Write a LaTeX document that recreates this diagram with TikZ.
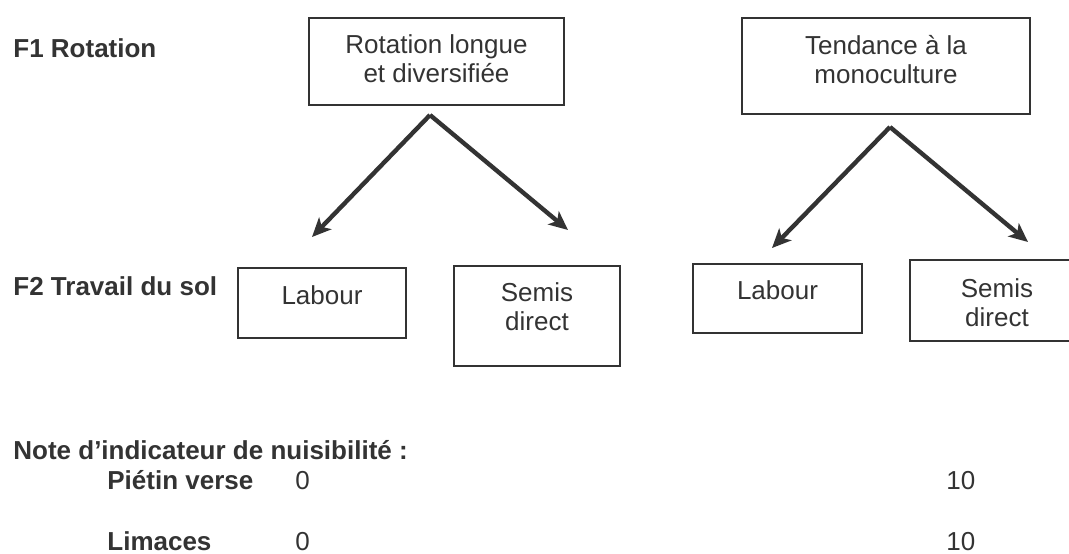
\documentclass[tikz,border=0pt]{standalone}
\usepackage{fontspec}
\setmainfont{Liberation Sans}
\usetikzlibrary{arrows.meta,positioning}
\definecolor{ink}{HTML}{333333}

\begin{document}
\begin{tikzpicture}[x=0.5pt,y=-0.5pt,
	every node/.style={text=ink,inner sep=0pt,font=\fontsize{13pt}{14.5pt}\selectfont},
	box/.style={draw=ink,line width=1pt,anchor=north,align=center},
	title/.style={anchor=base west,font=\fontsize{13pt}{14.5pt}\selectfont\bfseries}]
	\useasboundingbox (0,0) rectangle (1069,553);

	\node[title] (f1) at (13,57) {F1 Rotation};
	\node[title] (f2) at (13,295) {F2 Travail du sol};

	\node[box,minimum width=127.5pt,text height=32pt,text depth=11.5pt] (rotA) at (436.5,17) {Rotation longue\\et diversifiée};
	\node[box,minimum width=144pt,text height=32.5pt,text depth=15.5pt] (monoB) at (886,17) {Tendance à la\\monoculture};

	\node[box,minimum width=84pt,text height=18pt,text depth=17pt] (lab1) at (322,267) {Labour};
	\node[box,minimum width=83pt,text height=32pt,text depth=18pt] (semis1) at (537,265) {Semis\\direct};
	\node[box,minimum width=84.5pt,text height=17.5pt,text depth=17pt] (lab2) at (777.5,263) {Labour};
	\node[box,minimum width=87pt,text height=33pt,text depth=7.5pt] (semis2) at (997,259) {Semis\\direct};

	\coordinate (splitA) at ([xshift=-3.25pt,yshift=-4.5pt]rotA.south);
	\coordinate (splitB) at ([xshift=2pt,yshift=-6pt]monoB.south);

	\path [->,>={Stealth[length=9.5pt,width=8.5pt,inset=2.5pt]},color=ink,line width=2.2pt]
		(splitA) edge ([xshift=-5pt,yshift=15pt]lab1.north)
		(splitA) edge ([xshift=15.5pt,yshift=17.5pt]semis1.north)
		(splitB) edge ([xshift=-2.75pt,yshift=7.5pt]lab2.north)
		(splitB) edge ([xshift=15.5pt,yshift=8.5pt]semis2.north);

	\node[title] (note) at (13,459) {Note d’indicateur de nuisibilité :};
	\foreach \crit/\y [count=\n] in {Piétin verse/489,Limaces/550} {
		\node[title] (crit\n) at (107,\y) {\crit};
		\node[anchor=base west] (low\n) at (295,\y) {0};
		\node[anchor=base west] (high\n) at (946,\y) {10};
	}
\end{tikzpicture}
\end{document}
